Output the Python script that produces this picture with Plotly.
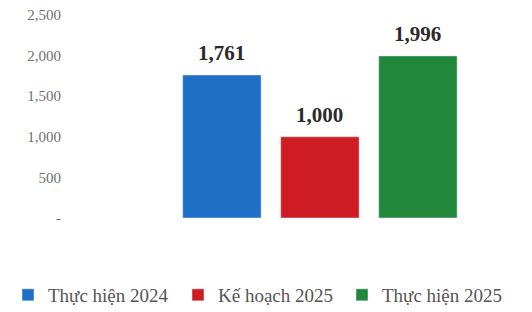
import plotly.graph_objects as go

categories = ["Sản lượng"]
series_names = ["Thực hiện 2024", "Kế hoạch 2025", "Thực hiện 2025"]
series_values = [[1761], [1000], [1996]]
colors = ["#1f6fc6", "#cf1c22", "#21883b"]
tick_vals = [0, 500, 1000, 1500, 2000, 2500]
tick_text = ["-", "500", "1,000", "1,500", "2,000", "2,500"]

legend_ids = ["legend", "legend2", "legend3"]
legend_x = [0.0, 0.3244, 0.6374]

fig = go.Figure()
for name, vals, col, lg in zip(series_names, series_values, colors, legend_ids):
    fig.add_trace(go.Bar(x=categories, y=vals, name=name, marker_color=col, legend=lg))

slot_px = 98
for i, vals in enumerate(series_values):
    for cat, v in zip(categories, vals):
        fig.add_annotation(
            x=cat, y=v, xshift=(i - 1) * slot_px, yshift=8,
            yanchor="bottom", showarrow=False,
            text=f"<b>{v:,}</b>",
            font=dict(family="Liberation Serif", size=21, color="#2b2b2b"),
        )

legend_style = dict(orientation="h", xref="container", yref="container",
                    xanchor="left", y=0.056, yanchor="middle",
                    font=dict(size=19, color="#555555"), itemwidth=30,
                    bgcolor="rgba(0,0,0,0)")

fig.update_layout(
    width=524, height=304,
    margin=dict(l=70, r=2, t=7, b=94, autoexpand=False),
    paper_bgcolor="white", plot_bgcolor="white",
    barmode="group", bargap=0.1, bargroupgap=0.2,
    font=dict(family="Liberation Serif", color="#555555"),
    xaxis=dict(range=[-0.7405, 0.643], showticklabels=False, showgrid=False,
               zeroline=False, showline=False),
    yaxis=dict(range=[0, 2500], tickvals=tick_vals, ticktext=tick_text,
               showgrid=False, zeroline=False, showline=False,
               tickfont=dict(size=15, color="#707070"), ticks="", ticklabelstandoff=16,
               ticklabeloverflow="allow"),
    legend=dict(x=legend_x[0], **legend_style),
    legend2=dict(x=legend_x[1], **legend_style),
    legend3=dict(x=legend_x[2], **legend_style),
    showlegend=True,
)
fig.write_html("out.html")
